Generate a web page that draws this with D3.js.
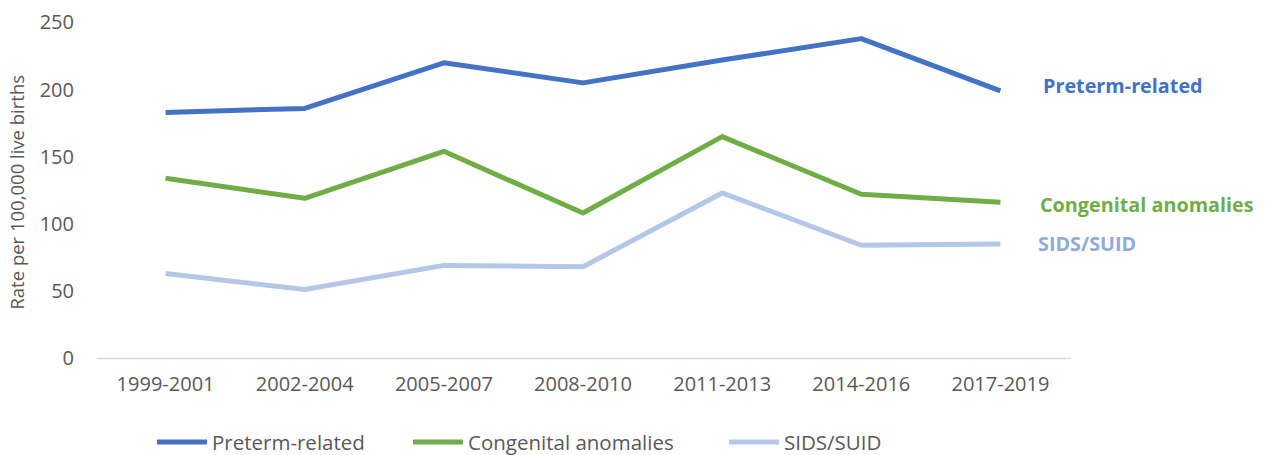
<!DOCTYPE html>
<html>
<head>
<meta charset="utf-8">
<script src="https://cdn.jsdelivr.net/npm/d3@7"></script>
<style>
  html, body { margin: 0; padding: 0; background: #fff; }
  svg { display: block; font-family: "Open Sans", "Noto Sans", sans-serif; }
</style>
</head>
<body>
<svg id="chart" width="1270" height="455"></svg>
<script>
const categories = ["1999-2001", "2002-2004", "2005-2007", "2008-2010", "2011-2013", "2014-2016", "2017-2019"];
const seriesNames = ["Preterm-related", "Congenital anomalies", "SIDS/SUID"];
const pretermValues = [183, 186, 220, 205, 222, 238, 199];
const congenitalValues = [134, 119, 154, 108, 165, 122, 116];
const sidsValues = [63, 51, 69, 68, 123, 84, 85];
const yTicks = [0, 50, 100, 150, 200, 250];
const lineColors = ["#4472C4", "#70AD47", "#B4C7E7"];
const labelColors = ["#4472C4", "#70AD47", "#8FAADC"];

const series = [
  { name: seriesNames[0], values: pretermValues, color: lineColors[0], label: labelColors[0] },
  { name: seriesNames[1], values: congenitalValues, color: lineColors[1], label: labelColors[1] },
  { name: seriesNames[2], values: sidsValues, color: lineColors[2], label: labelColors[2] }
];

const svg = d3.select("#chart");
const x = d3.scaleBand().domain(categories).range([96, 1070]);
const y = d3.scaleLinear().domain([0, 250]).range([358, 22.5]);
const textColor = "#595959";

// Y axis labels
const yAxis = svg.append("g").attr("transform", "translate(74,0)")
  .call(d3.axisLeft(y).tickValues(yTicks).tickSize(0).tickPadding(0));
yAxis.select(".domain").remove();
yAxis.selectAll("text").attr("fill", textColor).attr("font-size", 20)
  .attr("font-family", "'Open Sans', sans-serif");

// X axis
const xAxis = svg.append("g").attr("transform", `translate(0,${y(0)})`)
  .call(d3.axisBottom(x).tickSize(0).tickPadding(19));
xAxis.select(".domain").attr("stroke", "#D9D9D9").attr("stroke-width", 1.5);
xAxis.selectAll("text").attr("fill", textColor).attr("font-size", 20)
  .attr("font-family", "'Open Sans', sans-serif");

// Y axis title
svg.append("text")
  .attr("transform", `translate(24,${y(125) + 2}) rotate(-90)`)
  .attr("text-anchor", "middle")
  .attr("fill", textColor)
  .attr("font-size", 18.5)
  .text("Rate per 100,000 live births");

// Lines
const line = d3.line()
  .x((d, i) => x(categories[i]) + x.bandwidth() / 2)
  .y(d => y(d));

svg.selectAll("path.series").data(series).join("path")
  .attr("class", "series")
  .attr("fill", "none")
  .attr("stroke", d => d.color)
  .attr("stroke-width", 5)
  .attr("stroke-linejoin", "round")
  .attr("d", d => line(d.values));

// End labels
const endLabelPos = [[1043, 92.5], [1040, 211.5], [1038, 250.5]];
svg.selectAll("text.endlabel").data(series).join("text")
  .attr("class", "endlabel")
  .attr("x", (d, i) => endLabelPos[i][0])
  .attr("y", (d, i) => endLabelPos[i][1])
  .attr("fill", d => d.label)
  .attr("font-weight", "bold")
  .attr("font-size", 19.8)
  .text(d => d.name);

// Legend
const legendX = [157, 413, 729];
const lg = svg.selectAll("g.legend").data(series).join("g")
  .attr("class", "legend")
  .attr("transform", (d, i) => `translate(${legendX[i]},442)`);
lg.append("line").attr("x1", 0).attr("x2", 50).attr("y1", 0).attr("y2", 0)
  .attr("stroke", d => d.color).attr("stroke-width", 5);
lg.append("text").attr("x", 55).attr("y", 7.5)
  .attr("fill", textColor).attr("font-size", 20.5)
  .text(d => d.name);
</script>
</body>
</html>
